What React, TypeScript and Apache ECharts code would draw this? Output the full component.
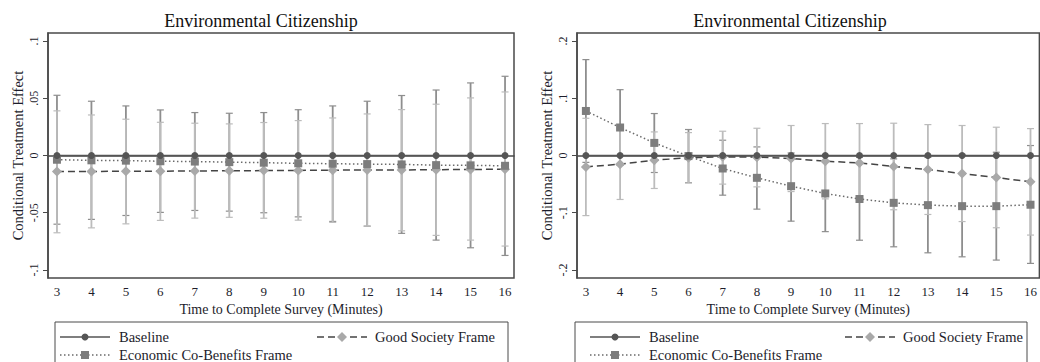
import React, { useEffect, useRef } from "react";
import * as echarts from "echarts";

const minutes = [3, 4, 5, 6, 7, 8, 9, 10, 11, 12, 13, 14, 15, 16];
const xTicks = minutes;
const leftYTicks = [-0.1, -0.05, 0, 0.05, 0.1];
const rightYTicks = [-0.2, -0.1, 0, 0.1, 0.2];
const panelTitle = "Environmental Citizenship";
const yTitle = "Conditional Treatment Effect";
const xTitle = "Time to Complete Survey (Minutes)";
const seriesNames = ["Baseline", "Economic Co-Benefits Frame", "Good Society Frame"];

// Left panel
const baselineLeft = [0, 0, 0, 0, 0, 0, 0, 0, 0, 0, 0, 0, 0, 0];
const econLeft = [-0.0037, -0.0042, -0.0045, -0.005, -0.0053, -0.0058, -0.0063, -0.0068, -0.0072, -0.0075, -0.0078, -0.0084, -0.0086, -0.009];
const econLeftLo = [-0.06, -0.0558, -0.0524, -0.0497, -0.048, -0.0486, -0.05, -0.0536, -0.0576, -0.0617, -0.068, -0.0739, -0.0806, -0.0873];
const econLeftHi = [0.0526, 0.0474, 0.0433, 0.0398, 0.0375, 0.0369, 0.0375, 0.04, 0.0433, 0.0474, 0.0524, 0.0572, 0.0634, 0.0692];
const gsLeft = [-0.014, -0.0139, -0.0138, -0.0137, -0.0135, -0.0133, -0.0132, -0.013, -0.0128, -0.0127, -0.0126, -0.0124, -0.0122, -0.012];
const gsLeftLo = [-0.0675, -0.0632, -0.0597, -0.0567, -0.0547, -0.054, -0.0548, -0.0565, -0.0584, -0.0617, -0.0658, -0.0698, -0.0739, -0.0791];
const gsLeftHi = [0.039, 0.0354, 0.0317, 0.029, 0.0282, 0.0276, 0.0288, 0.0305, 0.0328, 0.0363, 0.0401, 0.0448, 0.0503, 0.0555];

// Right panel
const baselineRight = [0, 0, 0, 0, 0, 0, 0, 0, 0, 0, 0, 0, 0, 0];
const econRight = [0.0778, 0.0489, 0.022, -0.001, -0.0227, -0.039, -0.0536, -0.0663, -0.076, -0.0827, -0.0867, -0.0885, -0.0885, -0.086];
const econRightLo = [-0.012, -0.0172, -0.0297, -0.0474, -0.0693, -0.0937, -0.1147, -0.133, -0.148, -0.1595, -0.17, -0.177, -0.1827, -0.1885];
const econRightHi = [0.1675, 0.115, 0.0733, 0.0454, 0.0267, 0.015, 0.0045, 0.0004, -0.0034, -0.0059, -0.0034, 0.002, 0.0057, 0.0174];
const gsRight = [-0.0199, -0.0152, -0.0082, -0.004, -0.0024, -0.0029, -0.0053, -0.01, -0.0129, -0.0192, -0.0245, -0.0315, -0.0384, -0.046];
const gsRightLo = [-0.105, -0.0768, -0.0576, -0.048, -0.05, -0.0548, -0.063, -0.0758, -0.0816, -0.0948, -0.103, -0.1154, -0.1262, -0.139];
const gsRightHi = [0.065, 0.0464, 0.0412, 0.04, 0.0424, 0.0476, 0.0524, 0.0558, 0.0558, 0.0564, 0.054, 0.0524, 0.0494, 0.047];

const FONT = "'Liberation Serif', 'DejaVu Serif', serif";
const TXT = "#1d1d2b";
const FRAME = "#4a4a4a";
const BASE_C = "#555555";
const ECON_C = "#7d7d7d";
const GS_C = "#a9a9a9";
const ECON_BAR = "#8e8e8e";
const GS_BAR = "#bcbcbc";

function fmt(v: number) {
  if (Math.abs(v) < 1e-9) return "0";
  let s = String(Math.round(v * 1000) / 1000);
  s = s.replace("0.", ".");
  return s;
}

function errSeries(name: string, lo: number[], hi: number[], color: string, axis: number) {
  return {
    type: "custom",
    name: name + " CI",
    xAxisIndex: axis,
    yAxisIndex: axis,
    silent: true,
    z: 2,
    data: minutes.map((m, i) => [m, lo[i], hi[i]]),
    encode: { x: 0, y: [1, 2] },
    renderItem: (params: any, api: any) => {
      const x = api.value(0);
      const a = api.coord([x, api.value(2)]);
      const b = api.coord([x, api.value(1)]);
      const w = 3.5;
      const st = { stroke: color, lineWidth: 1.8 };
      return {
        type: "group",
        children: [
          { type: "line", shape: { x1: a[0], y1: a[1], x2: b[0], y2: b[1] }, style: st },
          { type: "line", shape: { x1: a[0] - w, y1: a[1], x2: a[0] + w, y2: a[1] }, style: { stroke: color, lineWidth: 1.2 } },
          { type: "line", shape: { x1: b[0] - w, y1: b[1], x2: b[0] + w, y2: b[1] }, style: { stroke: color, lineWidth: 1.2 } },
        ],
      };
    },
  };
}

function lineSeries(name: string, vals: number[], axis: number, kind: string) {
  const cfg: any = {
    baseline: { symbol: "circle", size: 7, color: BASE_C, line: BASE_C, type: "solid", z: 5 },
    econ: { symbol: "rect", size: 8, color: ECON_C, line: "#6a6a6a", type: [1.5, 2.5], z: 4 },
    gs: { symbol: "diamond", size: 10, color: GS_C, line: "#444444", type: [7, 4], z: 3 },
  }[kind];
  return {
    type: "line",
    name,
    xAxisIndex: axis,
    yAxisIndex: axis,
    data: minutes.map((m, i) => [m, vals[i]]),
    symbol: cfg.symbol,
    symbolSize: cfg.size,
    showSymbol: true,
    itemStyle: { color: cfg.color },
    lineStyle: { color: cfg.line, width: 1.5, type: cfg.type },
    z: cfg.z,
    silent: true,
  };
}

function xAxis(gridIndex: number) {
  return {
    type: "value",
    gridIndex,
    min: 2.74,
    max: 16.26,
    axisLine: { show: true, lineStyle: { color: FRAME, width: 1.5 } },
    axisTick: { show: true, length: 5, lineStyle: { color: FRAME }, customValues: xTicks },
    axisLabel: { show: true, customValues: xTicks, color: TXT, fontFamily: FONT, fontSize: 13, margin: 7 },
    splitLine: { show: false },
    name: xTitle,
    nameLocation: "middle",
    nameGap: 20,
    nameTextStyle: { color: TXT, fontFamily: FONT, fontSize: 14 },
  };
}

function yAxis(gridIndex: number, lim: number, ticks: number[]) {
  return {
    type: "value",
    gridIndex,
    min: -lim,
    max: lim,
    axisLine: { show: true, lineStyle: { color: FRAME, width: 1.5 } },
    axisTick: { show: true, length: 5, lineStyle: { color: FRAME }, customValues: ticks },
    axisLabel: {
      show: true,
      customValues: ticks,
      rotate: 90,
      color: TXT,
      fontFamily: FONT,
      fontSize: 12,
      margin: 8,
      formatter: (v: number) => fmt(v),
    },
    splitLine: { show: false },
    name: yTitle,
    nameLocation: "middle",
    nameRotate: 90,
    nameGap: 23,
    nameTextStyle: { color: TXT, fontFamily: FONT, fontSize: 14.5 },
  };
}

function legendGraphics(x0: number, x1: number, sym1: number, sym2: number) {
  const y1 = 337;
  const y2 = 355;
  const L = 50;
  const t = { fontFamily: FONT, fontSize: 14.5, fill: TXT, textVerticalAlign: "middle" };
  return [
    { type: "rect", shape: { x: x0, y: 322, width: x1 - x0, height: 60 }, style: { fill: "#fff", stroke: FRAME, lineWidth: 1 }, z: 10 },
    { type: "line", shape: { x1: sym1, y1, x2: sym1 + L, y2: y1 }, style: { stroke: BASE_C, lineWidth: 1.5 }, z: 11 },
    { type: "circle", shape: { cx: sym1 + L / 2, cy: y1, r: 3.5 }, style: { fill: BASE_C }, z: 12 },
    { type: "text", x: sym1 + L + 9, y: y1, style: { ...t, text: seriesNames[0] }, z: 12 },
    { type: "line", shape: { x1: sym1, y1: y2, x2: sym1 + L, y2 }, style: { stroke: "#6a6a6a", lineWidth: 1.5, lineDash: [1.5, 2.5] }, z: 11 },
    { type: "rect", shape: { x: sym1 + L / 2 - 4, y: y2 - 4, width: 8, height: 8 }, style: { fill: ECON_C }, z: 12 },
    { type: "text", x: sym1 + L + 9, y: y2, style: { ...t, text: seriesNames[1] }, z: 12 },
    { type: "line", shape: { x1: sym2, y1, x2: sym2 + L, y2: y1 }, style: { stroke: "#444", lineWidth: 1.5, lineDash: [7, 4] }, z: 11 },
    {
      type: "polygon",
      shape: { points: [[sym2 + L / 2, y1 - 5], [sym2 + L / 2 + 5, y1], [sym2 + L / 2, y1 + 5], [sym2 + L / 2 - 5, y1]] },
      style: { fill: GS_C },
      z: 12,
    },
    { type: "text", x: sym2 + L + 8, y: y1, style: { ...t, text: seriesNames[2] }, z: 12 },
  ];
}

export default function App() {
  const ref = useRef<HTMLDivElement>(null);
  useEffect(() => {
    if (!ref.current) return;
    const chart = echarts.init(ref.current, undefined, { renderer: "svg" });
    const gridCommon = { show: true, borderColor: FRAME, borderWidth: 1.5, backgroundColor: "#fff", containLabel: false };
    chart.setOption({
      animation: false,
      backgroundColor: "#ffffff",
      grid: [
        { ...gridCommon, left: 48, top: 33, width: 466, height: 245 },
        { ...gridCommon, left: 577, top: 33, width: 466, height: 245 },
      ],
      xAxis: [xAxis(0), xAxis(1)],
      yAxis: [yAxis(0, 0.107, leftYTicks), yAxis(1, 0.214, rightYTicks)],
      series: [
        errSeries(seriesNames[1], econLeftLo, econLeftHi, ECON_BAR, 0),
        errSeries(seriesNames[2], gsLeftLo, gsLeftHi, GS_BAR, 0),
        lineSeries(seriesNames[2], gsLeft, 0, "gs"),
        lineSeries(seriesNames[1], econLeft, 0, "econ"),
        lineSeries(seriesNames[0], baselineLeft, 0, "baseline"),
        errSeries(seriesNames[1], econRightLo, econRightHi, ECON_BAR, 1),
        errSeries(seriesNames[2], gsRightLo, gsRightHi, GS_BAR, 1),
        lineSeries(seriesNames[2], gsRight, 1, "gs"),
        lineSeries(seriesNames[1], econRight, 1, "econ"),
        lineSeries(seriesNames[0], baselineRight, 1, "baseline"),
      ],
      graphic: [
        { type: "text", x: 261, y: 21, style: { text: panelTitle, fontFamily: FONT, fontSize: 18, fill: "#111", textAlign: "center", textVerticalAlign: "middle" } },
        { type: "text", x: 790, y: 21, style: { text: panelTitle, fontFamily: FONT, fontSize: 18, fill: "#111", textAlign: "center", textVerticalAlign: "middle" } },
        ...legendGraphics(55, 508, 60, 317),
        ...legendGraphics(575, 1027, 590, 845),
      ],
    });
    return () => chart.dispose();
  }, []);
  return <div ref={ref} style={{ position: "fixed", left: 0, top: 0, width: 1040, height: 362 }} />;
}
